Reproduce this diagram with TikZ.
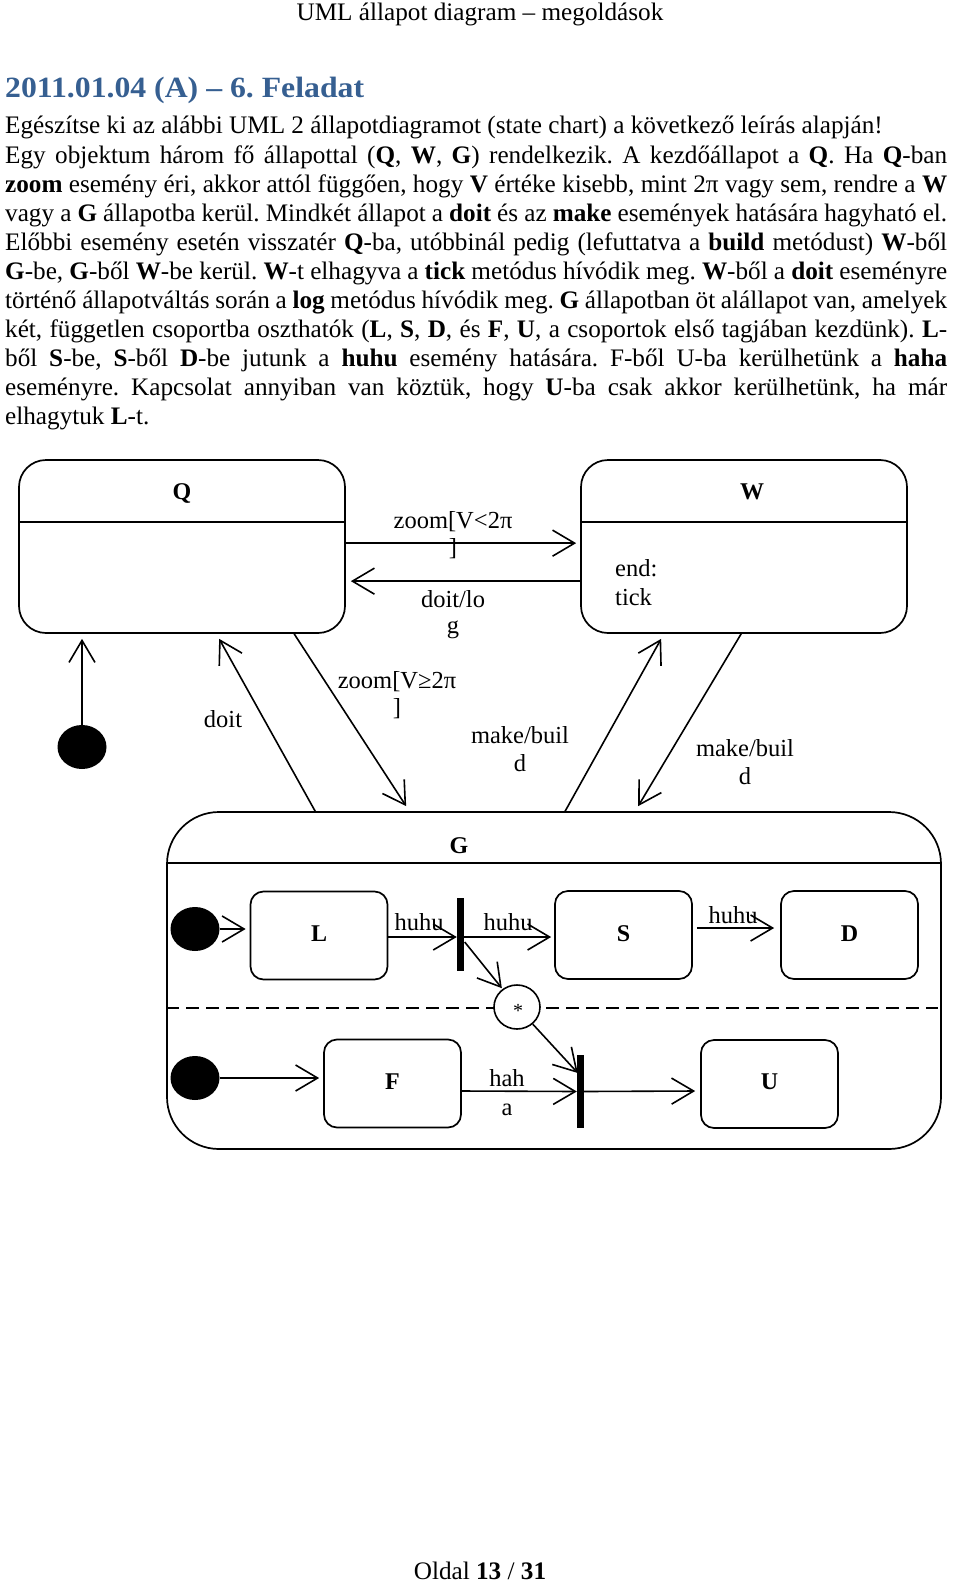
\documentclass[tikz,border=0pt]{standalone}
\usepackage{fontspec}
\usepackage{graphicx}
\setmainfont{Liberation Serif}
\usetikzlibrary{arrows.meta,calc,shapes.geometric}
\definecolor{titleblue}{HTML}{365F91}
\frenchspacing
\begin{document}
\begin{tikzpicture}[x=1pt,y=-1pt,
  body/.style={font=\fontsize{25.2}{29}\selectfont, inner sep=0pt, anchor=base west},
  lbl/.style={font=\fontsize{24.5}{28}\selectfont, inner sep=0pt, anchor=base},
  slbl/.style={font=\fontsize{24}{24}\selectfont\bfseries, inner sep=0pt},
  state/.style={draw, line width=1.7pt, rounded corners=13pt, minimum width=137pt, minimum height=88pt, inner sep=0pt, font=\fontsize{24}{24}\selectfont\bfseries},
  bigstate/.style={draw, line width=1.7pt, rounded corners=27pt, minimum width=326pt, minimum height=173pt, inner sep=0pt},
  arr/.style={line width=1.6pt, -{Straight Barb[length=22pt,width=26pt]}},
  initdot/.style={ellipse, fill=black, minimum width=49pt, minimum height=44pt, inner sep=0pt},
  syncbar/.style={fill=black, minimum width=7pt, minimum height=73pt, inner sep=0pt},
  sep/.style={line width=1.7pt},
]
\useasboundingbox (0,0) rectangle (960,1584);

% ---------- page text ----------
\node[font=\fontsize{25.2}{29}\selectfont, inner sep=0pt, anchor=base] (hdr) at (480,21) {UML állapot diagram – megoldások};
\node[font=\fontsize{29.4}{32}\selectfont\bfseries, text=titleblue, inner sep=0pt, anchor=base west] (title) at (5,98) {\scalebox{1.08}[1]{2011.01.04 (A) – 6. Feladat}};

\node[body] (t1) at (5,134) {Egészítse ki az alábbi UML 2 állapotdiagramot (state chart) a következő leírás alapján!};
\node[body] (t2) at (5,163) {\makebox[942pt][s]{Egy objektum három fő állapottal (\textbf{Q}, \textbf{W}, \textbf{G}) rendelkezik. A kezdőállapot a \textbf{Q}. Ha \textbf{Q}-ban}};
\node[body] (t3) at (5,192) {\makebox[942pt][s]{\textbf{zoom} esemény éri, akkor attól függően, hogy \textbf{V} értéke kisebb, mint 2π vagy sem, rendre a \textbf{W}}};
\node[body] (t4) at (5,221) {\makebox[942pt][s]{vagy a \textbf{G} állapotba kerül. Mindkét állapot a \textbf{doit} és az \textbf{make} események hatására hagyható el.}};
\node[body] (t5) at (5,250) {\makebox[942pt][s]{Előbbi esemény esetén visszatér \textbf{Q}-ba, utóbbinál pedig (lefuttatva a \textbf{build} metódust) \textbf{W}-ből}};
\node[body] (t6) at (5,279) {\makebox[942pt][s]{\textbf{G}-be, \textbf{G}-ből \textbf{W}-be kerül. \textbf{W}-t elhagyva a \textbf{tick} metódus hívódik meg. \textbf{W}-ből a \textbf{doit} eseményre}};
\node[body] (t7) at (5,308) {\makebox[942pt][s]{történő állapotváltás során a \textbf{log} metódus hívódik meg. \textbf{G} állapotban öt alállapot van, amelyek}};
\node[body] (t8) at (5,337) {\makebox[942pt][s]{két, független csoportba oszthatók (\textbf{L}, \textbf{S}, \textbf{D}, és \textbf{F}, \textbf{U}, a csoportok első tagjában kezdünk). \textbf{L}-}};
\node[body] (t9) at (5,366) {\makebox[942pt][s]{ből \textbf{S}-be, \textbf{S}-ből \textbf{D}-be jutunk a \textbf{huhu} esemény hatására. F-ből U-ba kerülhetünk a \textbf{haha}}};
\node[body] (t10) at (5,395) {\makebox[942pt][s]{eseményre. Kapcsolat annyiban van köztük, hogy \textbf{U}-ba csak akkor kerülhetünk, ha már}};
\node[body] (t11) at (5,424) {elhagytuk \textbf{L}-t.};

\node[font=\fontsize{25.2}{29}\selectfont, inner sep=0pt, anchor=base] (foot) at (480,1579) {Oldal \textbf{13} / \textbf{31}};

% ---------- top states ----------
\node[bigstate] (Q) at (182,546.5) {};
\node[slbl] (Qn) at (182,493) {Q};
\draw[sep] ($(Q.north west)+(0,63)$) -- ($(Q.north east)+(0,63)$);

\node[bigstate] (W) at (744,546.5) {};
\node[slbl] (Wn) at (752,492) {W};
\draw[sep] ($(W.north west)+(0,63)$) -- ($(W.north east)+(0,63)$);
\node[lbl, anchor=base west] (We) at (615,576) {end:};
\node[lbl, anchor=base west] (Wt) at (615,605) {tick};

\node[initdot] (d0) at (82,747) {};

% ---------- composite state G ----------
\node[draw, line width=1.7pt, rounded corners=52pt, minimum width=774pt, minimum height=337pt, inner sep=0pt] (G) at (554,980.5) {};
\node[slbl] (Gn) at (459,846) {G};
\draw[sep] ($(G.north west)+(0,52)$) -- ($(G.north east)+(0,52)$);
\draw[line width=1.6pt, dash pattern=on 13pt off 7pt] ($(G.west)+(0,27.5)$) -- ($(G.east)+(-4,27.5)$);

\node[state] (L) at (319,935.5) {\raisebox{3pt}{L}};
\node[state] (S) at (623.5,935) {\raisebox{3pt}{S}};
\node[state] (D) at (849.5,935) {\raisebox{3pt}{D}};
\node[state] (F) at (392.5,1083.5) {\raisebox{3pt}{F}};
\node[state] (U) at (769.5,1084) {\raisebox{4pt}{U}};

\node[initdot] (d1) at (195,929) {};
\node[initdot] (d2) at (195,1078) {};
\node[syncbar] (fk) at (460.5,934.5) {};
\node[syncbar] (jn) at (580.5,1091.5) {};
\node[ellipse, draw, fill=white, line width=1.6pt, minimum width=46pt, minimum height=44pt, inner sep=0pt] (H) at (517,1007) {};
\node[font=\fontsize{20}{20}\selectfont, inner sep=0pt] (Hs) at (518,1011) {*};

% ---------- top transitions ----------
\draw[arr] (d0) -- ($(d0 |- Q.south)+(0,5)$);
\draw[arr] ($(Q.north east)+(0,84)$) -- ($(W.north west)+(-4,84)$);
\draw[arr] ($(W.north west)+(0,122)$) -- ($(Q.north east)+(5,122)$);
\draw[arr] ($(G.north west)+(149,0)$) -- ($(Q.south west)+(201,5)$);
\draw[arr] ($(Q.south west)+(276,0)$) -- ($(G.north west)+(240,-5)$);
\draw[arr] ($(G.north west)+(399,0)$) -- ($(W.south west)+(81,5)$);
\draw[arr] ($(W.south west)+(161,0)$) -- ($(G.north west)+(472,-5)$);

\node[lbl] (z1a) at (453,528) {zoom[V<2π};
\node[lbl] (z1b) at (453,555) {]};
\node[lbl] (dla) at (453,607) {doit/lo};
\node[lbl] (dlb) at (453,633) {g};
\node[lbl] (z2a) at (397,688) {zoom[V≥2π};
\node[lbl] (z2b) at (397,715) {]};
\node[lbl] (dt) at (223,727) {doit};
\node[lbl] (m1a) at (520,743) {make/buil};
\node[lbl] (m1b) at (520,771) {d};
\node[lbl] (m2a) at (745,756) {make/buil};
\node[lbl] (m2b) at (745,784) {d};

% ---------- inner transitions ----------
\draw[arr] (d1) -- ($(L.west)+(-4,-6.5)$);
\draw[arr] (d2) -- ($(F.west)+(-4,-5.5)$);
\draw[arr] ($(L.east)+(0,1.5)$) -- ($(fk.west)+(0,2.5)$);
\draw[arr] ($(fk.east)+(0,2.5)$) -- ($(S.west)+(-3,2)$);
\draw[arr, shorten >=1pt] ($(fk.east)+(0.5,7.5)$) -- (H);
\draw[arr] (H) -- ($(jn.west)+(1,-18.5)$);
\draw[arr] ($(F.east)+(0,7.5)$) -- (jn.west);
\draw[arr] (jn.east) -- ($(U.west)+(-5,7)$);
\draw[arr] ($(S.east)+(4,-7)$) -- ($(D.west)+(-6,-7)$);

\node[lbl] (h1) at (419,930) {huhu};
\node[lbl] (h2) at (508,930) {huhu};
\node[lbl] (h3) at (733,923) {huhu};
\node[lbl] (ha1) at (507,1086) {hah};
\node[lbl] (ha2) at (507,1115) {a};
\end{tikzpicture}
\end{document}
